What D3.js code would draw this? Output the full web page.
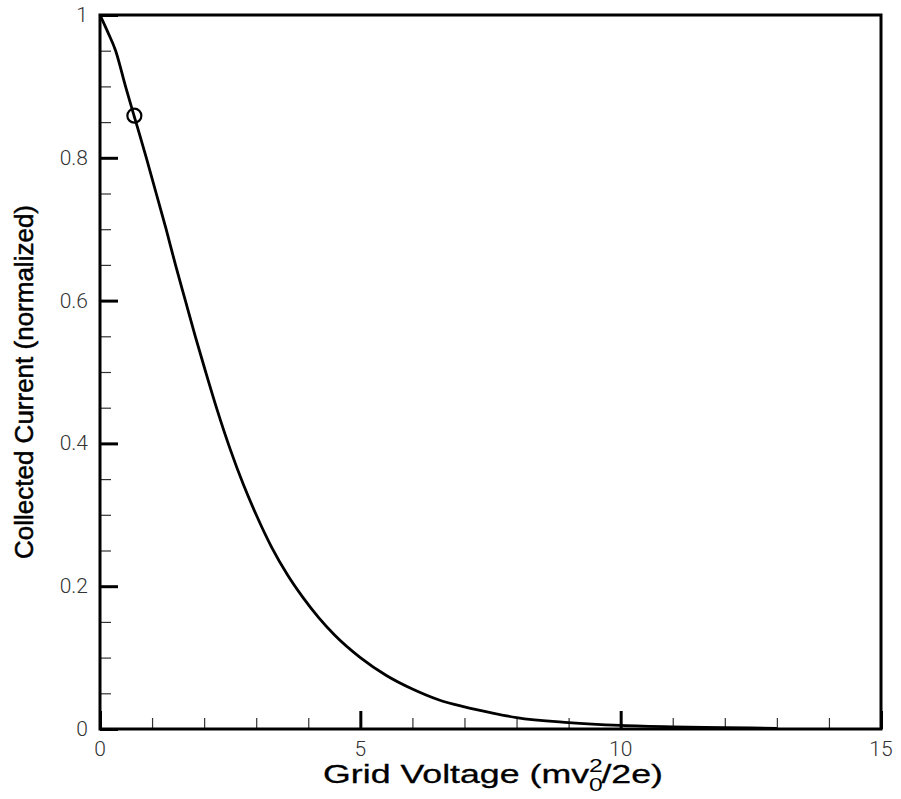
<!DOCTYPE html>
<html>
<head>
<meta charset="utf-8">
<script src="https://cdn.jsdelivr.net/npm/d3@7"></script>
<style>
  html, body { margin: 0; padding: 0; background: #fff; }
  svg { display: block; }
</style>
</head>
<body>
<svg id="chart" width="901" height="799"></svg>
<script>
// ---- Data ----
const gridVoltage = [0, 0.15, 0.3, 0.49, 0.69, 0.89, 1.08, 1.27, 1.45, 1.64, 1.83, 2.03, 2.25, 2.5, 2.75, 3.0, 3.3, 3.6, 3.9, 4.2, 4.5, 5.0, 5.5, 6.0, 6.5, 7.0, 7.5, 8.0, 9.0, 10.0, 11.0, 12.0, 13.0];
const collectedCurrent = [1.0, 0.976, 0.95, 0.90, 0.85, 0.80, 0.75, 0.70, 0.65, 0.60, 0.55, 0.50, 0.447, 0.392, 0.343, 0.300, 0.254, 0.216, 0.184, 0.156, 0.132, 0.100, 0.075, 0.056, 0.041, 0.031, 0.023, 0.016, 0.009, 0.005, 0.003, 0.002, 0.001];
const markerVoltage = [0.66];
const markerCurrent = [0.859];

const xMajorTicks = [0, 5, 10, 15];
const xTickLabels = ["0", "5", "10", "15"];
const xMinorTicks = [1, 2, 3, 4, 6, 7, 8, 9, 11, 12, 13, 14];
const yMajorTicks = [0, 0.2, 0.4, 0.6, 0.8, 1];
const yTickLabels = ["0", "0.2", "0.4", "0.6", "0.8", "1"];
const yMinorTicks = [0.05, 0.1, 0.15, 0.25, 0.3, 0.35, 0.45, 0.5, 0.55, 0.65, 0.7, 0.75, 0.85, 0.9, 0.95];

const xTitle = "Grid Voltage (mv";
const xTitleSup = "2";
const xTitleSub = "0";
const xTitleEnd = "/2e)";
const yTitle = "Collected Current (normalized)";

// ---- Layout ----
const pLeft = 100, pRight = 881, pTop = 15, pBottom = 729;
const svg = d3.select("#chart");

const x = d3.scaleLinear().domain([0, 15]).range([pLeft, pRight]);
const y = d3.scaleLinear().domain([0, 1]).range([pBottom, pTop]);

// minor ticks (inward)
svg.append("g").attr("transform", `translate(0,${pBottom})`)
  .call(d3.axisBottom(x).tickValues(xMinorTicks).tickSize(-11).tickFormat(""))
  .call(g => { g.select(".domain").remove(); g.selectAll("line").attr("stroke", "#333").attr("stroke-width", 1.2); });
svg.append("g").attr("transform", `translate(${pLeft},0)`)
  .call(d3.axisLeft(y).tickValues(yMinorTicks).tickSize(-11).tickFormat(""))
  .call(g => { g.select(".domain").remove(); g.selectAll("line").attr("stroke", "#333").attr("stroke-width", 1.2); });

// major ticks (inward)
svg.append("g").attr("transform", `translate(0,${pBottom})`)
  .call(d3.axisBottom(x).tickValues(xMajorTicks).tickSize(-18).tickFormat(""))
  .call(g => { g.select(".domain").remove(); g.selectAll("line").attr("stroke", "#000").attr("stroke-width", 3); });
svg.append("g").attr("transform", `translate(${pLeft},0)`)
  .call(d3.axisLeft(y).tickValues(yMajorTicks).tickSize(-18).tickFormat(""))
  .call(g => { g.select(".domain").remove(); g.selectAll("line").attr("stroke", "#000").attr("stroke-width", 3); });

// frame
svg.append("rect")
  .attr("x", pLeft).attr("y", pTop)
  .attr("width", pRight - pLeft).attr("height", pBottom - pTop)
  .attr("fill", "none").attr("stroke", "#000").attr("stroke-width", 3);

// tick labels
const tickFont = "Roboto, 'Liberation Sans', sans-serif";
svg.append("g").selectAll("text").data(xMajorTicks).join("text")
  .attr("x", d => x(d)).attr("y", pBottom + 27)
  .attr("text-anchor", "middle")
  .attr("font-family", tickFont).attr("font-weight", 300)
  .attr("font-size", 21).attr("fill", "#333")
  .text((d, i) => xTickLabels[i]);
svg.append("g").selectAll("text").data(yMajorTicks).join("text")
  .attr("x", pLeft - 12).attr("y", d => y(d) + 7)
  .attr("text-anchor", "end")
  .attr("font-family", tickFont).attr("font-weight", 300)
  .attr("font-size", 21).attr("fill", "#333")
  .text((d, i) => yTickLabels[i]);

// curve
const pts = gridVoltage.map((v, i) => [v, collectedCurrent[i]]);
svg.append("path")
  .datum(pts)
  .attr("fill", "none").attr("stroke", "#000").attr("stroke-width", 2.8)
  .attr("stroke-linejoin", "round")
  .attr("d", d3.line().x(d => x(d[0])).y(d => y(d[1])).curve(d3.curveMonotoneX));

// marker
svg.append("g").selectAll("circle").data(markerVoltage).join("circle")
  .attr("cx", d => x(d)).attr("cy", (d, i) => y(markerCurrent[i]))
  .attr("r", 7).attr("fill", "none").attr("stroke", "#000").attr("stroke-width", 2.2);

// axis titles
const titleFont = "'Liberation Sans', Arial, sans-serif";
const xtG = svg.append("g");
const xt = xtG.append("text")
  .attr("x", 0).attr("y", 0)
  .attr("text-anchor", "middle")
  .attr("font-family", titleFont).attr("font-size", 26)
  .attr("fill", "#000").attr("stroke", "#000").attr("stroke-width", 0.3);
xt.append("tspan").text(xTitle);
xt.append("tspan").attr("font-size", 18).attr("stroke-width", 0).attr("dy", -11).text(xTitleSup);
xt.append("tspan").attr("font-size", 18).attr("stroke-width", 0).attr("dx", -10).attr("dy", 19).text(xTitleSub);
xt.append("tspan").attr("dx", -1).attr("dy", -8).text(xTitleEnd);
const xtW = xt.node().getBBox().width;
const xtScale = 340 / xtW;
xtG.attr("transform", `translate(493,783) scale(${xtScale},1)`);

svg.append("text")
  .attr("transform", `translate(33,382) rotate(-90)`)
  .attr("text-anchor", "middle")
  .attr("font-family", titleFont).attr("font-size", 26)
  .attr("fill", "#000").attr("stroke", "#000").attr("stroke-width", 0.5)
  .text(yTitle);
</script>
</body>
</html>
